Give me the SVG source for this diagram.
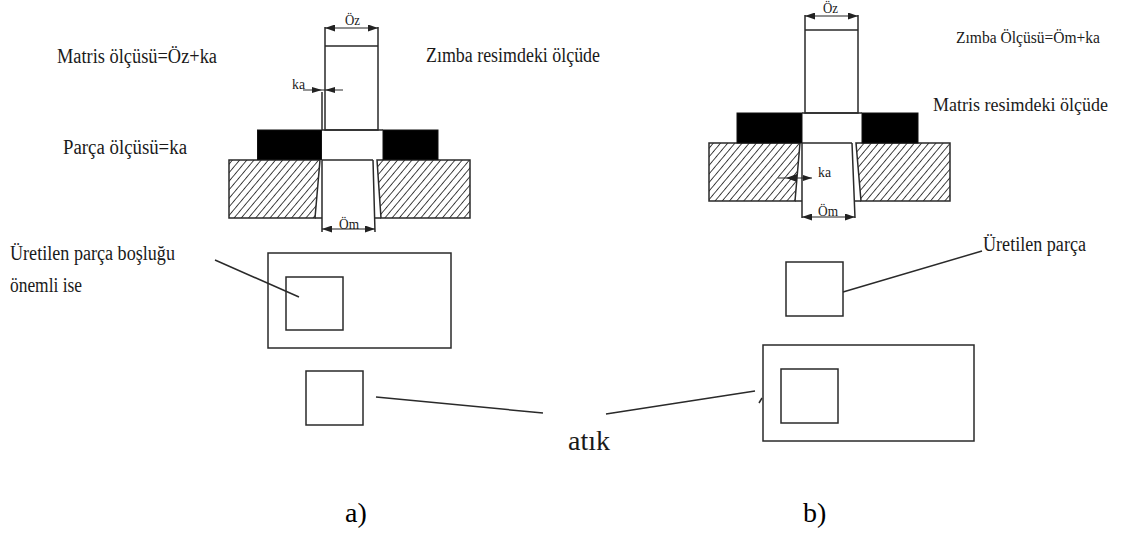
<svg xmlns="http://www.w3.org/2000/svg" width="1121" height="535" viewBox="0 0 1121 535">
<style>
text{font-family:"Liberation Serif","Times New Roman",serif;fill:#1a1a1a;font-size:20px}
.s{font-size:14px}
.m{font-size:18px}
.cap{font-size:28px;fill:#000}
.l{fill:none;stroke:#2a2a2a;stroke-width:1.5}
.t{fill:none;stroke:#2a2a2a;stroke-width:1}
.d{fill:none;stroke:#222;stroke-width:1.200;marker-start:url(#as);marker-end:url(#ae)}
.b{fill:#000;stroke:#111}
.h{fill:url(#h);stroke:#2a2a2a;stroke-width:1.500}
</style>
<defs>
<marker id="ae" markerUnits="userSpaceOnUse" markerWidth="11" markerHeight="7" refX="10" refY="3.500" orient="auto"><path d="M0 0L10 3.500L0 7Z" fill="#222"/></marker>
<marker id="as" markerUnits="userSpaceOnUse" markerWidth="11" markerHeight="7" refX="1" refY="3.500" orient="auto"><path d="M11 0L1 3.500L11 7Z" fill="#222"/></marker>
<pattern id="h" width="5.500" height="5.500" patternUnits="userSpaceOnUse" patternTransform="rotate(40)"><rect width="5.500" height="5.500" fill="#fff"/><line x1="0" y1="0" x2="0" y2="5.500" stroke="#333" stroke-width="1.800"/></pattern>
</defs>
<rect width="1121" height="535" fill="#fff"/>
<g id="left-tool">
<path class="h" d="M229 160H320L315 218H229Z"/>
<path class="h" d="M377 160H470V218H381Z"/>
<rect class="b" x="257.500" y="130" width="64" height="29.500"/>
<rect class="b" x="383" y="130" width="55" height="29.500"/>
<path class="l" d="M325 27V130H378V27M325 46H378"/>
<path class="d" d="M325 28H378"/>
<path class="l" d="M322 92V130"/>
<path class="t" d="M303 90H343"/>
<path class="l" d="M322 130H383M322 160H373M322 160V232M373 160L375 232M315 218H322M375 218H381"/>
<path class="d" d="M322 229H375"/>
<path d="M322 90L312 87V93Z M325 90L335 87V93Z" fill="#222"/>
</g>
<g id="right-tool">
<path class="h" d="M709 143H800L795 201H709Z"/>
<path class="h" d="M856 143H950V201H861Z"/>
<rect class="b" x="737" y="113" width="65" height="30"/>
<rect class="b" x="862" y="113" width="56" height="30"/>
<path class="l" d="M805 15V113H858V15M805 30H858"/>
<path class="d" d="M805 16H858"/>
<path class="l" d="M802 113H862M802 143H852M802 143V218M852 143L855 218M795 201H802M855 201H861"/>
<path class="d" d="M802 217H855"/>
<path class="t" d="M778 178H812"/>
<path d="M786 178L797 174V182Z M812 178L803 175V181Z" fill="#222"/>
</g>
<g id="left-labels">
<text x="345" y="25" class="s" textLength="15" lengthAdjust="spacingAndGlyphs">Öz</text>
<text x="292" y="89" class="s" textLength="13" lengthAdjust="spacingAndGlyphs">ka</text>
<text x="339" y="229" class="s" textLength="20" lengthAdjust="spacingAndGlyphs">Öm</text>
<text x="57" y="63" textLength="160" lengthAdjust="spacingAndGlyphs">Matris ölçüsü=Öz+ka</text>
<text x="426" y="62" textLength="174" lengthAdjust="spacingAndGlyphs">Zımba resimdeki ölçüde</text>
<text x="63" y="154" textLength="124" lengthAdjust="spacingAndGlyphs">Parça ölçüsü=ka</text>
<text x="10" y="260" textLength="165" lengthAdjust="spacingAndGlyphs">Üretilen parça boşluğu</text>
<text x="10" y="292" textLength="72" lengthAdjust="spacingAndGlyphs">önemli ise</text>
</g>
<g id="right-labels">
<text x="823" y="13" class="s" textLength="15" lengthAdjust="spacingAndGlyphs">Öz</text>
<text x="818" y="177" class="s" textLength="13" lengthAdjust="spacingAndGlyphs">ka</text>
<text x="818" y="216" class="s" textLength="20" lengthAdjust="spacingAndGlyphs">Öm</text>
<text x="956" y="43" class="m" textLength="144" lengthAdjust="spacingAndGlyphs" style="font-size:17px">Zımba Ölçüsü=Öm+ka</text>
<text x="933" y="111" class="m">Matris resimdeki ölçüde</text>
<text x="983" y="251" textLength="103" lengthAdjust="spacingAndGlyphs">Üretilen parça</text>
</g>
<g id="connectors">
<path class="l" d="M215 260L299 297M843 292L982 251M376 397L543 413M606 414L755 391M759 403L762 398"/>
</g>
<g id="left-parts">
<rect id="left-strip" class="l" x="268" y="253" width="183" height="95"/>
<rect id="left-hole" class="l" x="286" y="277" width="57" height="53"/>
<rect id="left-waste" class="l" x="306" y="371" width="57" height="54"/>
</g>
<g id="right-parts">
<rect id="right-piece" class="l" x="786" y="262" width="57" height="54"/>
<rect id="right-strip" class="l" x="763" y="345" width="211" height="96"/>
<rect id="right-hole" class="l" x="781" y="369" width="57" height="54"/>
</g>
<g id="captions">
<text x="568" y="450" textLength="42" lengthAdjust="spacingAndGlyphs" style="font-size:27px">atık</text>
<text x="345" y="522" class="cap">a)</text>
<text x="803" y="522" class="cap">b)</text>
</g>
</svg>
